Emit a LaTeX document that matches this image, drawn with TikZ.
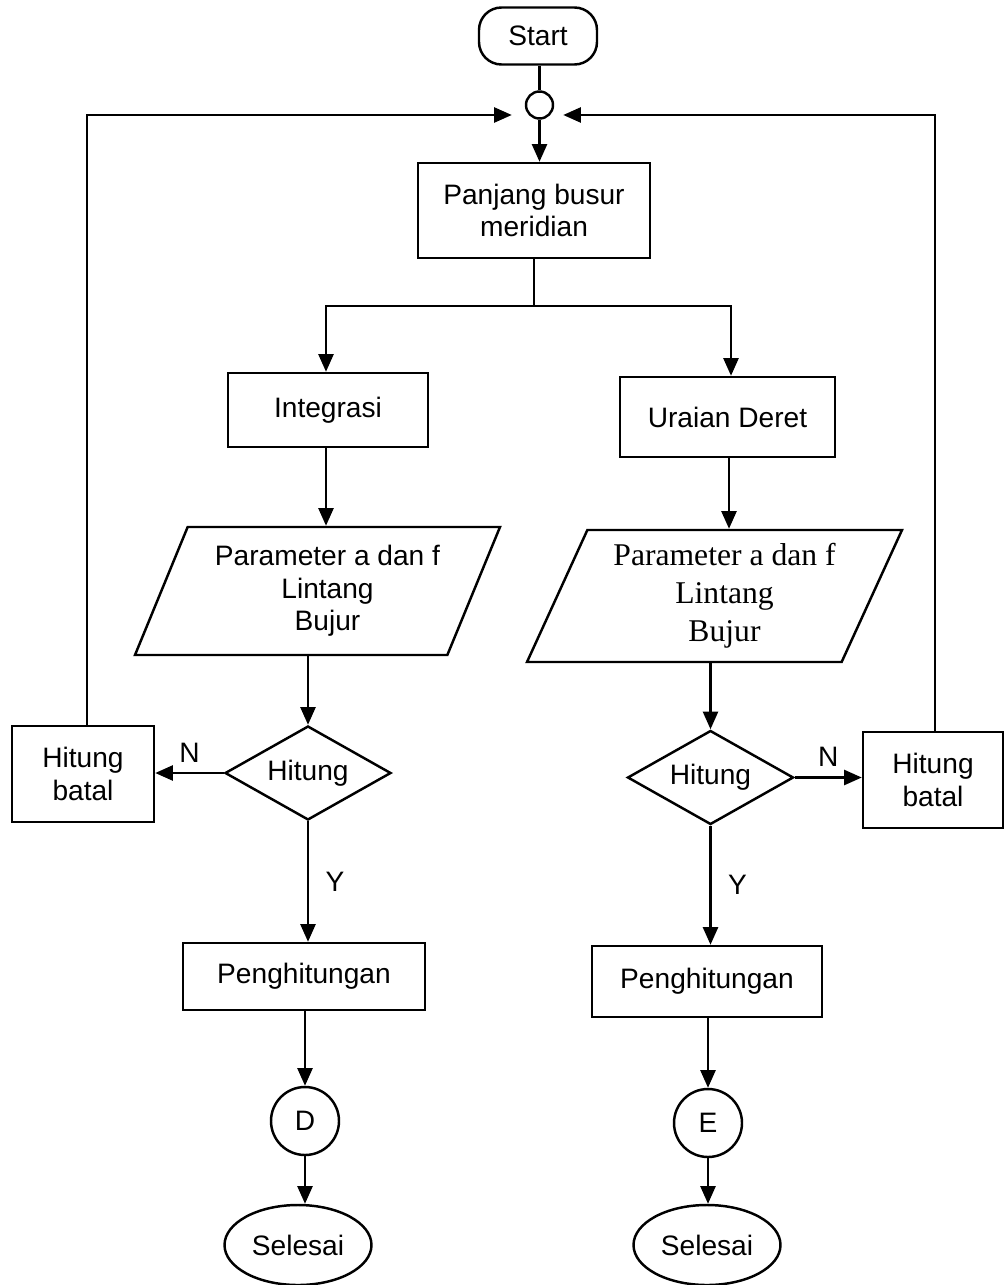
\documentclass[tikz,border=0pt]{standalone}
\usepackage{fontspec}
\setmainfont{Liberation Sans}
\newfontfamily\timesfont{Liberation Serif}
\usetikzlibrary{shapes.geometric,arrows.meta}

\begin{document}
\begin{tikzpicture}[
    line width=1.4pt,
    font=\fontsize{16}{18.5}\selectfont,
    box/.style={draw, rectangle, align=center, inner sep=0pt},
    data/.style={draw, trapezium, trapezium left angle=60, trapezium right angle=120,
        trapezium stretches body, align=center, inner sep=0pt},
    decision/.style={draw, diamond, aspect=1.8, inner sep=0pt,
        minimum width=3.32cm, minimum height=1.88cm},
    conn/.style={draw, circle, inner sep=0pt},
    arr/.style={-{Triangle[length=10pt,width=8.5pt]}}
]
    \useasboundingbox (0,0) rectangle (20.08,-25.7);

    % Top of the chart
    \node[draw, rounded corners=0.45cm, minimum width=2.36cm, minimum height=1.14cm] (start) at (10.76,-0.72) {Start};
    \node[conn, minimum size=0.54cm] (join) at (10.79,-2.1) {};
    \node[box, minimum width=4.64cm, minimum height=1.9cm] (busur) at (10.68,-4.21) {Panjang busur\\meridian};

    % Left branch: integrasi
    \node[box, minimum width=4.0cm, minimum height=1.48cm] (integ) at (6.56,-8.2) {Integrasi};
    \node[data, minimum width=7.3cm, minimum height=2.56cm] (parL) at (6.35,-11.82) {\hspace*{0.4cm}Parameter a dan f\\\hspace*{0.4cm}Lintang\\\hspace*{0.4cm}Bujur};
    \node[decision] (hitL) at (6.16,-15.46) {Hitung};
    \node[box, minimum width=2.84cm, minimum height=1.92cm] (batalL) at (1.66,-15.48) {Hitung\\batal};
    \node[box, minimum width=4.84cm, minimum height=1.34cm] (hasilL) at (6.08,-19.53) {Penghitungan};
    \node[conn, minimum size=1.36cm] (conD) at (6.1,-22.42) {D};
    \node[draw, ellipse, minimum width=2.8cm, minimum height=1.6cm] (endL) at (5.96,-24.9) {Selesai};

    % Right branch: uraian deret
    \node[box, minimum width=4.3cm, minimum height=1.6cm] (deret) at (14.55,-8.34) {Uraian Deret};
    \node[data, minimum width=7.5cm, minimum height=2.64cm, font=\timesfont\fontsize{18}{21.5}\selectfont] (parR) at (14.29,-11.92) {\hspace*{0.4cm}Parameter a dan f\\\hspace*{0.4cm}Lintang\\\hspace*{0.4cm}Bujur};
    \node[decision] (hitR) at (14.21,-15.55) {Hitung};
    \node[box, minimum width=2.8cm, minimum height=1.92cm] (batalR) at (18.66,-15.6) {Hitung\\batal};
    \node[box, minimum width=4.6cm, minimum height=1.42cm] (hasilR) at (14.14,-19.63) {Penghitungan};
    \node[conn, minimum size=1.36cm] (conE) at (14.16,-22.46) {E};
    \node[draw, ellipse, minimum width=2.8cm, minimum height=1.6cm] (endR) at (14.14,-24.9) {Selesai};

    % Loop-back arrow ends
    \coordinate (inL) at ([xshift=-2.6mm,yshift=-2mm]join.west);
    \coordinate (inR) at ([xshift=1.8mm,yshift=-2mm]join.east);

    % Connectors
    \draw (start.south -| join.north) -- (join.north);
    \draw[arr] (join.south) -- (join.south |- busur.north);
    \draw (busur.south) -- ++(0,-0.94) coordinate (split);
    \draw[arr] (split) -| ([xshift=-0.04cm]integ.north);
    \draw[arr] (split) -| ([xshift=0.07cm]deret.north);

    \draw[arr] ([xshift=-0.04cm]integ.south) -- ([xshift=-0.04cm]integ.south |- parL.north);
    \draw[arr] (hitL.north |- parL.south) -- (hitL.north);
    \draw[arr] (hitL.west) -- node[above, yshift=2pt] {N} (hitL.west -| batalL.east);
    \draw[arr] (hitL.south) -- node[right, xshift=6pt] {Y} (hitL.south |- hasilL.north);
    \draw[arr] (hasilL.south -| conD.north) -- (conD.north);
    \draw[arr] (conD.south) -- (conD.south |- endL.north);
    \draw[arr] ([xshift=0.08cm]batalL.north) |- (inL);

    \draw[arr] ([xshift=0.03cm]deret.south) -- ([xshift=0.03cm]deret.south |- parR.north);
    \draw[arr] (hitR.north |- parR.south) -- (hitR.north);
    \draw[arr] (hitR.east) -- node[above, yshift=2pt] {N} (hitR.east -| batalR.west);
    \draw[arr] (hitR.south) -- node[right, xshift=6pt] {Y} (hitR.south |- hasilR.north);
    \draw[arr] (hasilR.south -| conE.north) -- (conE.north);
    \draw[arr] (conE.south) -- (conE.south |- endR.north);
    \draw[arr] ([xshift=0.04cm]batalR.north) |- (inR);
\end{tikzpicture}
\end{document}
